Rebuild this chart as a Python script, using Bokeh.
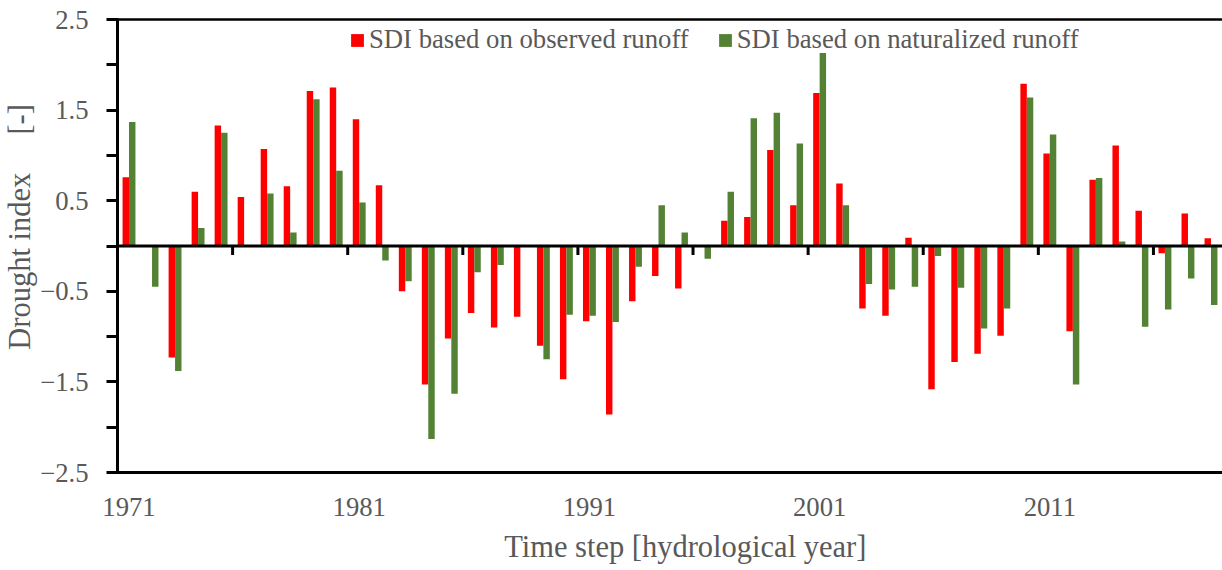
from bokeh.plotting import figure
from bokeh.models import Range1d, FixedTicker, LinearAxis, Span, Legend
from bokeh.embed import file_html
from bokeh.resources import INLINE

# ---------------- data ----------------
years = list(range(1971, 2019))
sdi_observed = [0.76, 0.00, -1.23, 0.60, 1.33, 0.54, 1.07, 0.66, 1.71, 1.75,
                1.40, 0.67, -0.50, -1.53, -1.02, -0.74, -0.90, -0.78, -1.10, -1.47,
                -0.83, -1.86, -0.61, -0.33, -0.47, 0.00, 0.28, 0.32, 1.06, 0.45,
                1.69, 0.69, -0.69, -0.77, 0.09, -1.58, -1.28, -1.19, -0.99, 1.79,
                1.02, -0.94, 0.73, 1.11, 0.39, -0.08, 0.36, 0.085]
sdi_naturalized = [1.37, -0.45, -1.38, 0.20, 1.25, 0.00, 0.58, 0.15, 1.62, 0.83,
                   0.48, -0.16, -0.39, -2.13, -1.63, -0.29, -0.21, 0.00, -1.25, -0.76,
                   -0.77, -0.84, -0.23, 0.45, 0.15, -0.14, 0.60, 1.41, 1.47, 1.13,
                   2.13, 0.45, -0.42, -0.48, -0.45, -0.11, -0.46, -0.91, -0.69, 1.64,
                   1.23, -1.53, 0.75, 0.05, -0.89, -0.70, -0.36, -0.65]
series_labels = ["SDI based on observed runoff", "SDI based on naturalized runoff"]
y_ticks_labeled = [-2.5, -1.5, -0.5, 0.5, 1.5, 2.5]
y_ticks_unlabeled = [-2.0, -1.0, 0.0, 1.0, 2.0]
x_label_years = years[::10]
x_mark_years = years[::5]
NB = "\u00a0"
x_title = NB * 4 + "Time step [hydrological year]"
y_title = NB * 5 + "Drought index" + NB * 5 + "[-]"

# ---------------- style ----------------
RED = "#FF0000"
GREEN = "#548235"
TXT = "#595959"
FONT = "Liberation Serif"
TICK_FS = "26.7px"
TITLE_FS = "30.5px"

p = figure(width=1222, height=570, output_backend="svg", toolbar_location=None,
           x_range=Range1d(years[0] - 0.5, years[-1] + 0.5),
           y_range=Range1d(-2.5, 2.5),
           min_border_left=117, min_border_right=0, min_border_top=19,
           min_border_bottom=98)
p.grid.visible = False
p.outline_line_color = None
p.background_fill_color = "white"
p.border_fill_color = "white"

off, w = 0.14, 0.28
r1 = p.vbar(x=[y - off for y in years], top=sdi_observed, bottom=0, width=w,
            fill_color=RED, line_color=None)
r2 = p.vbar(x=[y + off for y in years], top=sdi_naturalized, bottom=0, width=w,
            fill_color=GREEN, line_color=None)

# zero line with its tick marks
p.add_layout(Span(location=0, dimension="width", line_color="black", line_width=3))
bounds = [y - 0.5 for y in x_mark_years]
p.segment(x0=bounds, y0=[0] * len(bounds), x1=bounds, y1=[-0.1] * len(bounds),
          line_color="black", line_width=3)

# y axis
yax = p.yaxis[0]
yax.ticker = FixedTicker(ticks=y_ticks_labeled, minor_ticks=y_ticks_unlabeled)
yax.axis_line_color = "black"
yax.axis_line_width = 3
yax.major_tick_line_color = "black"
yax.major_tick_line_width = 3
yax.major_tick_out = 11
yax.major_tick_in = 1
yax.minor_tick_line_color = "black"
yax.minor_tick_line_width = 3
yax.minor_tick_out = 11
yax.minor_tick_in = 1
yax.major_label_standoff = 18
yax.major_label_text_font = FONT
yax.major_label_text_font_size = TICK_FS
yax.major_label_text_color = TXT
yax.axis_label = y_title
yax.axis_label_text_font = FONT
yax.axis_label_text_font_size = TITLE_FS
yax.axis_label_text_font_style = "normal"
yax.axis_label_text_color = TXT
yax.axis_label_standoff = 0

# x axis (bottom line with year labels)
xax = p.xaxis[0]
xax.ticker = FixedTicker(ticks=x_label_years, minor_ticks=[])
xax.axis_line_color = "black"
xax.axis_line_width = 3
xax.major_tick_out = 0
xax.major_tick_in = 0
xax.minor_tick_out = 0
xax.minor_tick_in = 0
xax.major_label_standoff = 25
xax.major_label_text_font = FONT
xax.major_label_text_font_size = TICK_FS
xax.major_label_text_color = TXT
xax.axis_label = x_title
xax.axis_label_text_font = FONT
xax.axis_label_text_font_size = TITLE_FS
xax.axis_label_text_font_style = "normal"
xax.axis_label_text_color = TXT
xax.axis_label_standoff = 11

# top border line
top_ax = LinearAxis(ticker=FixedTicker(ticks=[]), major_tick_out=0, major_tick_in=0,
                    minor_tick_out=0, minor_tick_in=0, axis_line_width=2.5,
                    axis_line_color="black", major_label_text_font_size="0px")
p.add_layout(top_ax, "above")

legend = Legend(items=[(series_labels[0], [r1]), (series_labels[1], [r2])],
                orientation="horizontal", location=(232, 417),
                background_fill_alpha=0, border_line_color=None,
                padding=0, margin=0, spacing=28, label_standoff=4,
                glyph_width=16, glyph_height=16,
                label_text_font=FONT, label_text_font_size=TICK_FS,
                label_text_color=TXT)
p.add_layout(legend)

open("out.html", "w").write(file_html(p, INLINE))
